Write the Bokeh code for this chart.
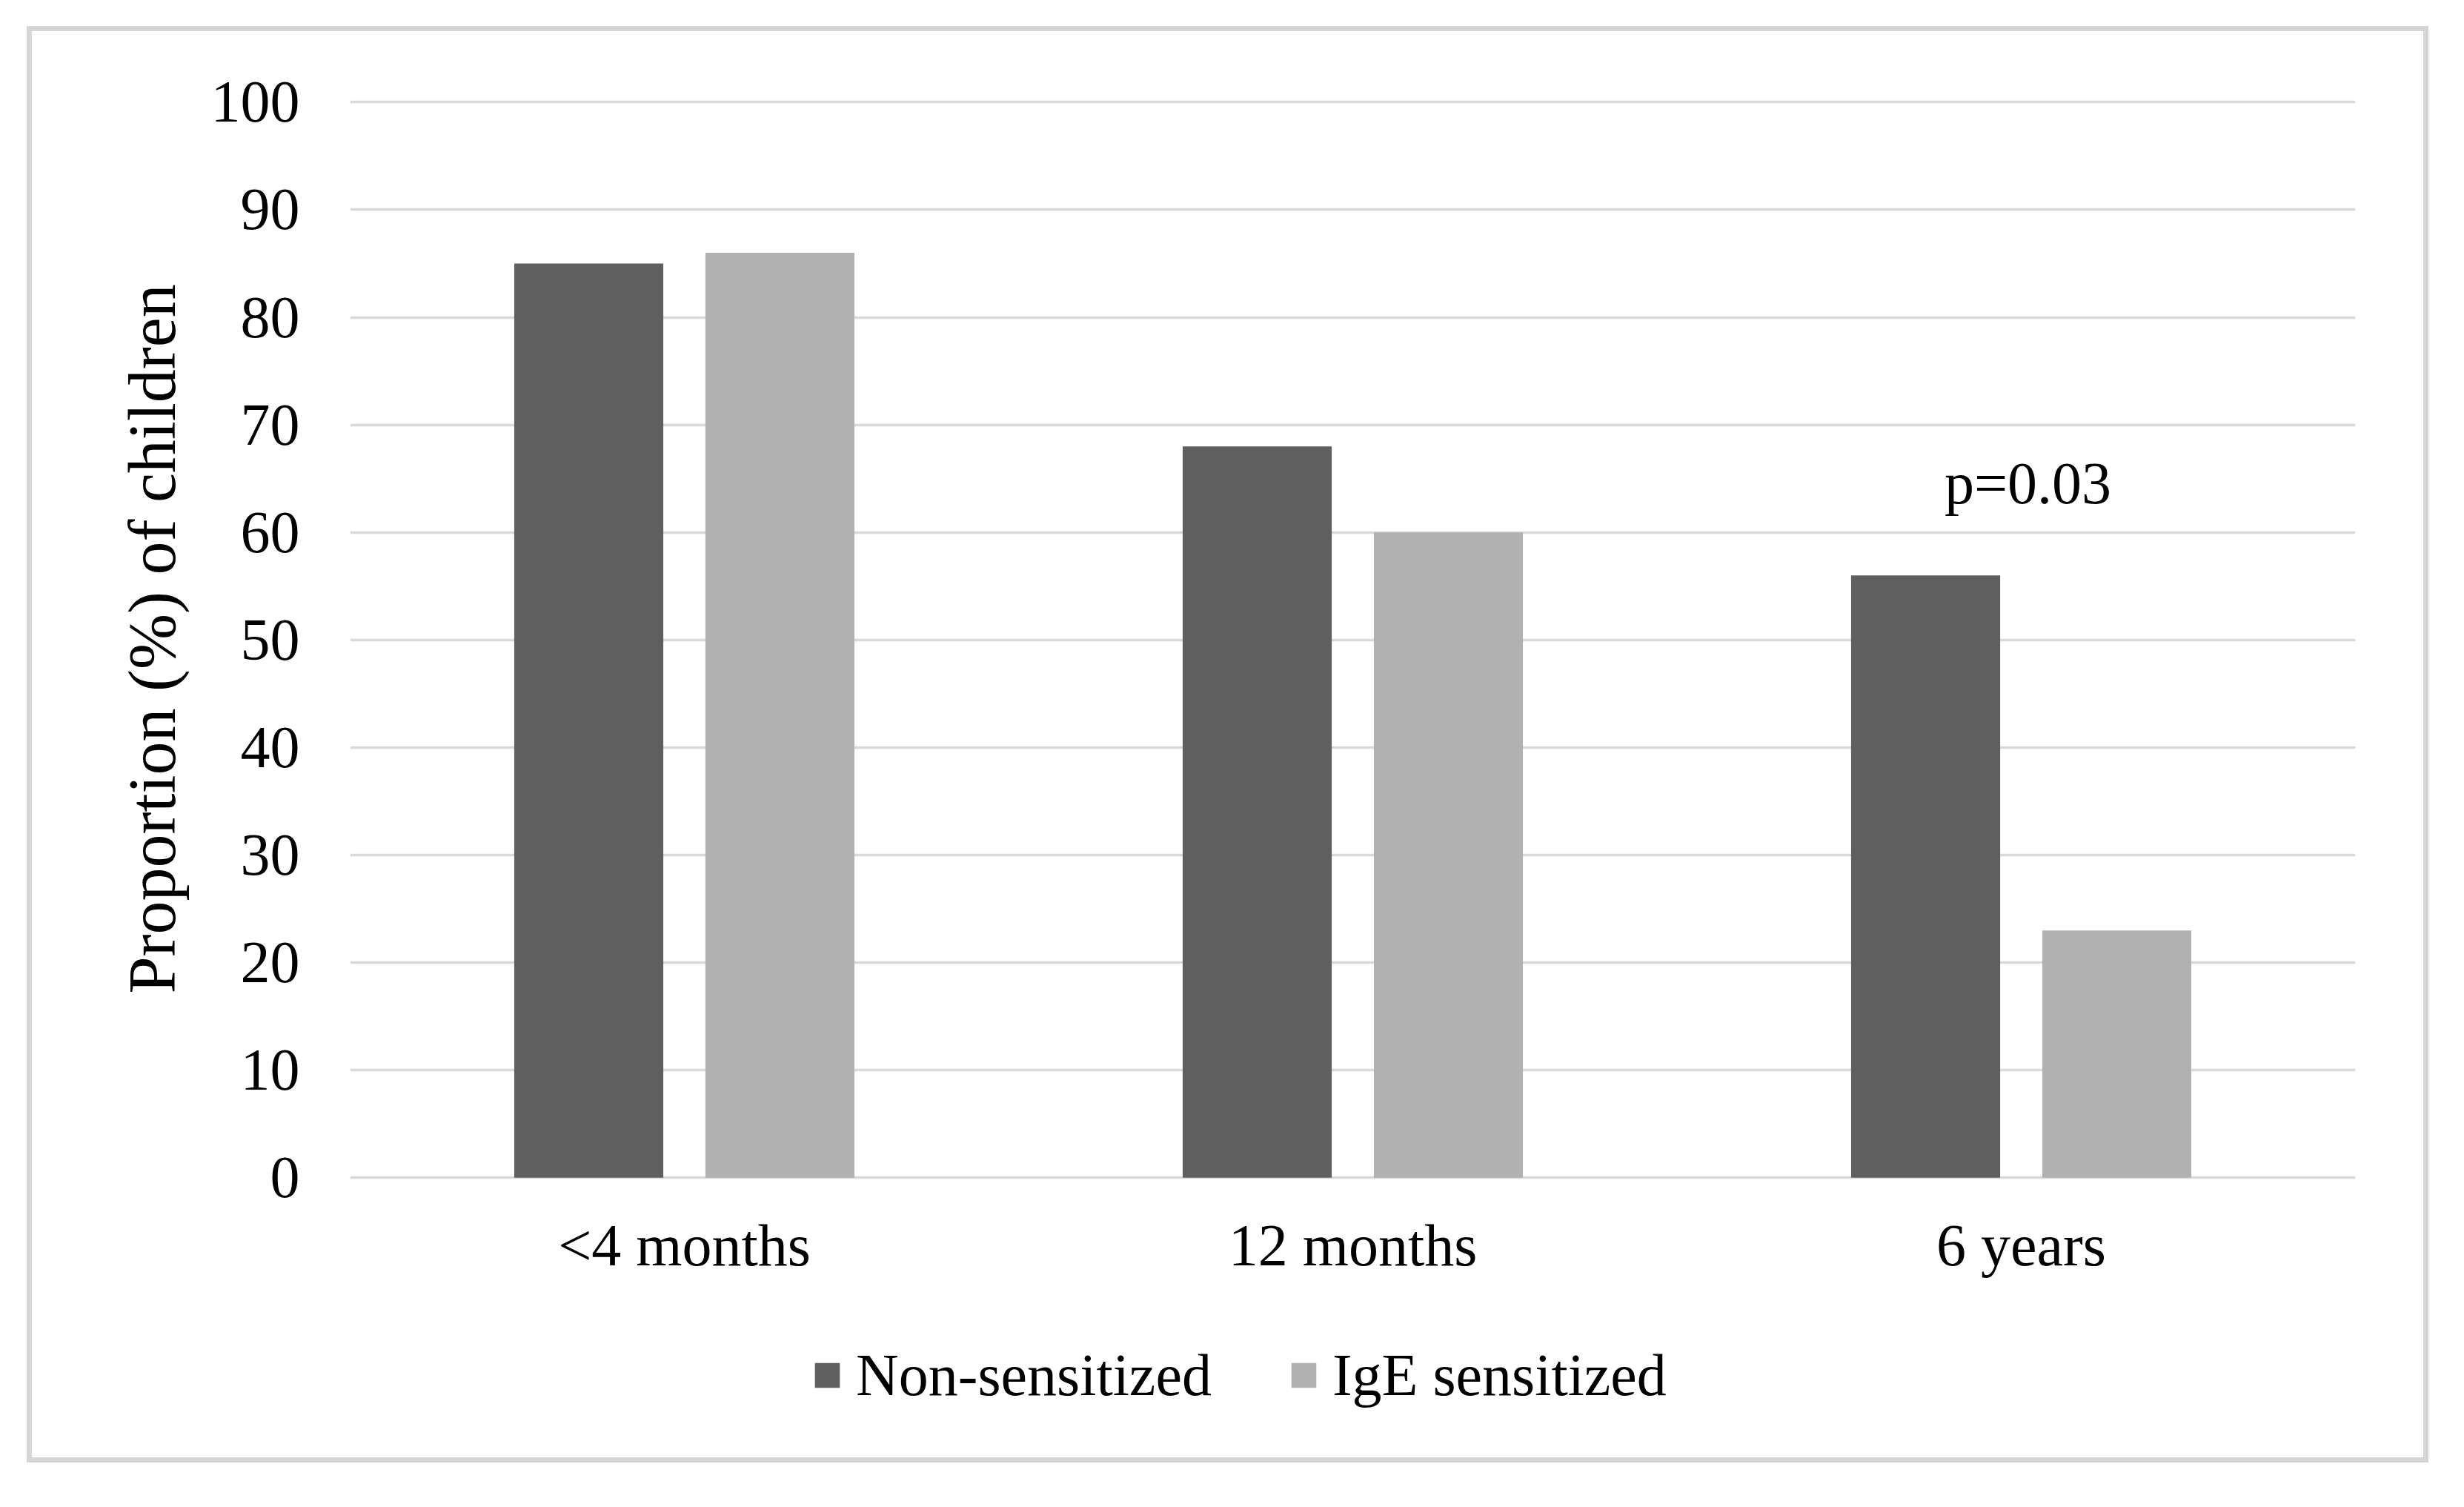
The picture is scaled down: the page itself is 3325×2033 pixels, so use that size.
from bokeh.plotting import figure
from bokeh.models import FactorRange, Range1d, FixedTicker, Legend, LegendItem, Title
from bokeh.transform import dodge
from bokeh.core.properties import value
from bokeh.embed import file_html
from bokeh.resources import INLINE

# ---- data ----
categories = ["<4 months", "12 months", "6 years"]
non_sensitized = [85, 68, 56]
ige_sensitized = [86, 60, 23]
series_names = ["Non-sensitized", "IgE sensitized"]
y_ticks = [0, 10, 20, 30, 40, 50, 60, 70, 80, 90, 100]
y_title = "Proportion (%) of children"
p_label = "p=0.03"
p_label_cat = "6 years"
p_label_y = 64.6

FONT = "Liberation Serif"
DARK = "#5f5f5f"
LIGHT = "#b1b1b1"
GRID = "#d9d9d9"
BORDER = "#d6d6d6"

# frame spans from the top of the value axis down to the chart border,
# so the legend (drawn inside the frame) sits under the category labels
p = figure(
    x_range=FactorRange(factors=categories),
    y_range=Range1d(-25.75, 100.3),
    frame_width=2706, frame_height=1829,
    min_border_left=472, min_border_right=131,
    min_border_top=133, min_border_bottom=55,
    output_backend="svg", toolbar_location=None,
)
p.outline_line_color = None
p.background_fill_color = "white"
p.border_fill_color = "white"
p.border_fill_alpha = 0

g = f"linear-gradient({BORDER},{BORDER})"
p.styles = {
    "background": (
        f"{g} 36px 35px / 3241px 7px no-repeat, "
        f"{g} 36px 1966px / 3241px 7px no-repeat, "
        f"{g} 36px 35px / 7px 1938px no-repeat, "
        f"{g} 3270px 35px / 7px 1938px no-repeat, white"
    )
}

src = dict(cat=categories, a=non_sensitized, b=ige_sensitized)
r1 = p.vbar(x=dodge("cat", -0.143, range=p.x_range), top="a", width=0.223, bottom=0,
            source=src, fill_color=DARK, line_color=None)
r2 = p.vbar(x=dodge("cat", 0.143, range=p.x_range), top="b", width=0.223, bottom=0,
            source=src, fill_color=LIGHT, line_color=None)

p.text(x=[p_label_cat], y=[p_label_y], text=[p_label], text_font=value(FONT),
       text_font_size="80px", text_align="center", text_baseline="middle",
       text_color="black", x_offset=9)

for ax in (p.xaxis[0], p.yaxis[0]):
    ax.axis_line_color = None
    ax.major_tick_line_color = None
    ax.minor_tick_line_color = None
    ax.major_tick_out = 0
    ax.major_tick_in = 0
    ax.major_label_text_font = FONT
    ax.major_label_text_font_size = "80px"
    ax.major_label_text_color = "black"
p.xaxis.fixed_location = 0
p.xaxis.major_label_standoff = 47
p.yaxis.ticker = FixedTicker(ticks=y_ticks)
p.yaxis.major_label_standoff = 68

ttl = Title(text=y_title, align="left", vertical_align="bottom", offset=622,
            standoff=54, text_font=FONT, text_font_size="90px",
            text_font_style="normal", text_color="black")
p.add_layout(ttl, "left")

p.xgrid.grid_line_color = None
p.ygrid.ticker = FixedTicker(ticks=y_ticks)
p.ygrid.grid_line_color = GRID
p.ygrid.grid_line_width = 3.5

lg = Legend(items=[LegendItem(label=series_names[0], renderers=[r1]),
                   LegendItem(label=series_names[1], renderers=[r2])])
lg.orientation = "horizontal"
lg.location = (623, 57)
lg.glyph_width = 42
lg.glyph_height = 42
lg.label_height = 100
lg.label_standoff = 18
lg.spacing = 103
lg.padding = 0
lg.margin = 0
lg.border_line_color = None
lg.background_fill_alpha = 0
lg.label_text_font = FONT
lg.label_text_font_size = "80px"
lg.label_text_color = "black"
p.add_layout(lg, "center")

open("out.html", "w").write(file_html(p, INLINE))
